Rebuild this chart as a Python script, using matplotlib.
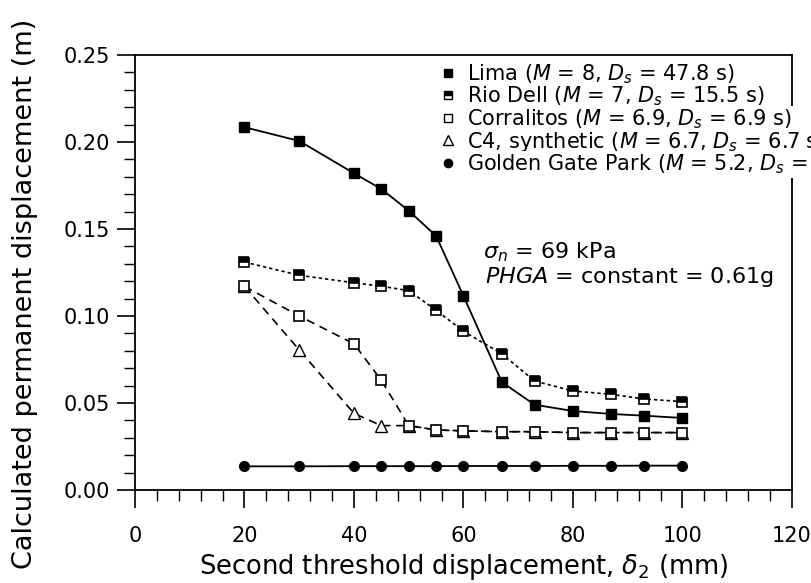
import numpy as np
import matplotlib
matplotlib.use('Agg')
from matplotlib import pyplot as plt
from matplotlib.ticker import MultipleLocator, FormatStrFormatter
from matplotlib.lines import Line2D

plt.rcParams['font.family'] = ['DejaVu Sans']
plt.rcParams['mathtext.fontset'] = 'dejavusans'

# second threshold displacement (mm)
delta2 = [20, 30, 40, 45, 50, 55, 60, 67, 73, 80, 87, 93, 100]

# calculated permanent displacement (m)
lima = [0.2085, 0.2006, 0.182, 0.173, 0.1605, 0.146, 0.1115, 0.062,
        0.049, 0.0454, 0.0437, 0.0427, 0.0414]
rio_dell = [0.131, 0.1234, 0.1191, 0.1171, 0.1146, 0.1033, 0.0912, 0.0783,
            0.0626, 0.0569, 0.055, 0.0523, 0.0508]
corralitos = [0.117, 0.100, 0.084, 0.063, 0.037, 0.0345, 0.034, 0.0335,
              0.0335, 0.033, 0.033, 0.033, 0.033]
c4 = [0.117, 0.0805, 0.044, 0.037, 0.037, 0.0345, 0.034, 0.0335,
      0.0335, 0.033, 0.033, 0.033, 0.033]
golden_gate = [0.0136, 0.0136, 0.0137, 0.0137, 0.0137, 0.0137, 0.0138,
               0.0138, 0.0138, 0.0139, 0.0139, 0.014, 0.014]

labels = ['Lima ($M$ = 8, $D_s$ = 47.8 s)',
          'Rio Dell ($M$ = 7, $D_s$ = 15.5 s)',
          'Corralitos ($M$ = 6.9, $D_s$ = 6.9 s)',
          'C4, synthetic ($M$ = 6.7, $D_s$ = 6.7 s)',
          'Golden Gate Park ($M$ = 5.2, $D_s$ =']

fig = plt.figure(figsize=(8.12, 5.83), dpi=100)
ax = fig.add_axes([135/812, 1-490/583, 657/812, 435/583])

ax.plot(delta2, golden_gate, '-', color='black', lw=1.3,
        marker='o', ms=7, zorder=3)
ax.plot(delta2, c4, color='black', lw=1.2, dashes=(5, 3.5),
        marker='^', ms=8, mfc='white', mec='black', mew=1.0, zorder=3)
ax.plot(delta2, corralitos, color='black', lw=1.2, dashes=(5, 3.5),
        marker='s', ms=7, mfc='white', mec='black', mew=1.2, zorder=3)
ax.plot(delta2, rio_dell, color='black', lw=1.2, dashes=(2, 1.8),
        marker='s', ms=7, fillstyle='top', mfc='black', mfcalt='white',
        mec='black', mew=1.2, zorder=3)
ax.plot(delta2, lima, '-', color='black', lw=1.3,
        marker='s', ms=7.5, zorder=4)

ax.set_xlim(0, 120)
ax.set_ylim(0, 0.25)
ax.xaxis.set_major_locator(MultipleLocator(20))
ax.xaxis.set_minor_locator(MultipleLocator(4))
ax.yaxis.set_major_locator(MultipleLocator(0.05))
ax.yaxis.set_minor_locator(MultipleLocator(0.01))
ax.yaxis.set_major_formatter(FormatStrFormatter('%.2f'))
ax.tick_params(which='major', direction='out', length=13, width=1.2,
               labelsize=15)
ax.tick_params(axis='x', which='major', pad=13)
ax.tick_params(axis='y', which='major', pad=5)
ax.tick_params(which='minor', direction='out', length=8, width=1.0)
for s in ax.spines.values():
    s.set_linewidth(1.3)

ax.set_xlabel('Second threshold displacement, $\\delta_2$ (mm)', fontsize=18.5,
              va='center')
ax.set_ylabel('Calculated permanent displacement (m)', fontsize=19.5,
              va='center')
ax.xaxis.set_label_coords(0.5, -0.176)
ax.yaxis.set_label_coords(-0.168, 0.45)

handles = [
    Line2D([], [], ls='none', marker='s', color='black', ms=6),
    Line2D([], [], ls='none', marker='s', fillstyle='top', mfc='black',
           mfcalt='white', mec='black', ms=6),
    Line2D([], [], ls='none', marker='s', mfc='white', mec='black', ms=6),
    Line2D([], [], ls='none', marker='^', mfc='white', mec='black', ms=7),
    Line2D([], [], ls='none', marker='o', color='black', ms=6),
]
leg = ax.legend(handles, labels, loc='upper left', frameon=False,
                bbox_to_anchor=(440/812, 1-62/583),
                bbox_transform=fig.transFigure, fontsize=15,
                handlelength=0.8, handletextpad=0.5, labelspacing=-0.05,
                borderaxespad=0, borderpad=0)
for t in leg.get_texts():
    t.set_bbox(dict(facecolor='white', edgecolor='none', pad=1))

ax.text(483/812, 1-252/583, '$\\sigma_n$ = 69 kPa', transform=fig.transFigure,
        fontsize=16, va='center', ha='left')
ax.text(485/812, 1-277/583, '$PHGA$ = constant = 0.61g',
        transform=fig.transFigure, fontsize=16, va='center', ha='left')

fig.savefig('out.png', dpi=100)
